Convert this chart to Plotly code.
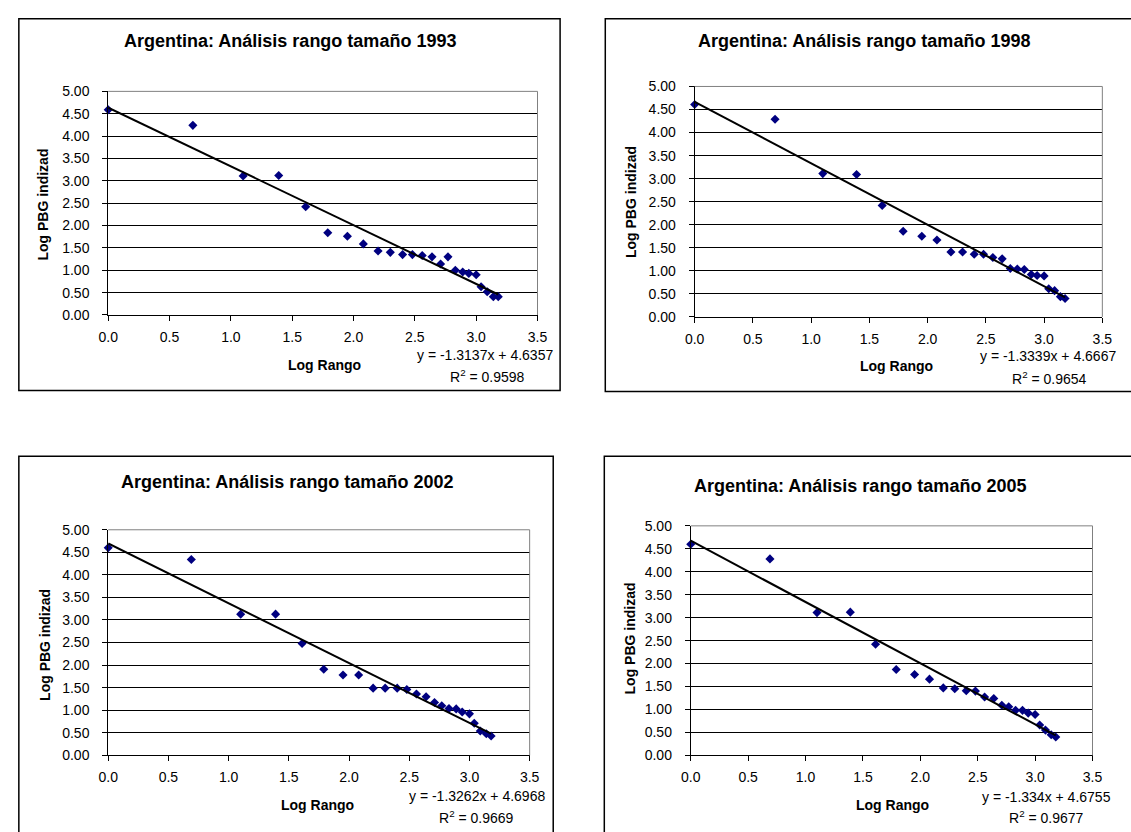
import plotly.graph_objects as go

W, H = 1131, 832

# ---------------- data ----------------
log_rango = [0.00, 0.69, 1.10, 1.39, 1.61, 1.79, 1.95, 2.08, 2.20, 2.30, 2.40, 2.48,
             2.56, 2.64, 2.71, 2.77, 2.83, 2.89, 2.94, 3.00, 3.04, 3.09, 3.14, 3.18]

pbg_1993 = [4.59, 4.24, 3.11, 3.12, 2.42, 1.84, 1.76, 1.59, 1.43, 1.40, 1.35, 1.35,
            1.33, 1.30, 1.14, 1.30, 1.00, 0.96, 0.93, 0.90, 0.63, 0.52, 0.41, 0.41]
pbg_1998 = [4.61, 4.29, 3.11, 3.09, 2.42, 1.86, 1.75, 1.67, 1.41, 1.41, 1.36, 1.36,
            1.29, 1.26, 1.05, 1.04, 1.03, 0.92, 0.90, 0.89, 0.61, 0.57, 0.44, 0.40]
pbg_2002 = [4.60, 4.34, 3.13, 3.13, 2.48, 1.91, 1.78, 1.78, 1.49, 1.49, 1.49, 1.46,
            1.36, 1.30, 1.17, 1.10, 1.04, 1.03, 0.96, 0.92, 0.71, 0.54, 0.48, 0.43]
pbg_2005 = [4.60, 4.28, 3.11, 3.12, 2.42, 1.87, 1.76, 1.66, 1.47, 1.45, 1.41, 1.40,
            1.27, 1.24, 1.09, 1.06, 0.98, 0.98, 0.92, 0.89, 0.66, 0.55, 0.45, 0.40]

years = ["1993", "1998", "2002", "2005"]
series = [pbg_1993, pbg_1998, pbg_2002, pbg_2005]
slopes = [-1.3137, -1.3339, -1.3262, -1.334]
intercepts = [4.6357, 4.6667, 4.6968, 4.6755]
r_squared = [0.9598, 0.9654, 0.9669, 0.9677]

x_ticks = [0.0, 0.5, 1.0, 1.5, 2.0, 2.5, 3.0, 3.5]
y_ticks = [0.0, 0.5, 1.0, 1.5, 2.0, 2.5, 3.0, 3.5, 4.0, 4.5, 5.0]

title_text = "Argentina: Análisis rango tamaño "
x_title = "Log Rango"
y_title = "Log PBG indizad"

# ---------------- layout (pixel positions) ----------------
panels = [
    dict(plot=(100, 537, 85, 313), frame=(9, 11, 560, 390), title=(285, 34),
         xlab=(320, 364), ylab=(34, 200), eq=(484, 354), r2=(486, 375)),
    dict(plot=(697, 1112, 80, 315), frame=(606, 11, 1250, 391), title=(869, 34),
         xlab=(902, 365), ylab=(632, 198), eq=(1057, 355), r2=(1058, 377)),
    dict(plot=(100, 529, 532, 762), frame=(9, 457, 553, 950), title=(282, 483),
         xlab=(313, 813), ylab=(35, 649), eq=(475, 803), r2=(475, 825)),
    dict(plot=(693, 1102, 528, 762), frame=(605, 457, 1250, 950), title=(865, 487),
         xlab=(898, 813), ylab=(631, 643), eq=(1055, 804), r2=(1055, 825)),
]

FONT = "Liberation Sans, Arial, sans-serif"


def px(x):
    return x / W


def py(y):
    return 1 - y / H


fig = go.Figure()
shapes = []
annotations = []
layout = {}


def note(text, pos, size, angle=0):
    return dict(text=text, xref="paper", yref="paper", x=px(pos[0]), y=py(pos[1]),
                xanchor="center", yanchor="middle", showarrow=False, textangle=angle,
                font=dict(family=FONT, size=size, color="black"))


for i, (yr, ys, m, b, r2, p) in enumerate(zip(years, series, slopes, intercepts, r_squared, panels)):
    n = "" if i == 0 else str(i + 1)
    xa, ya = "x" + n, "y" + n
    x0, x1, y0, y1 = p["plot"]

    fig.add_trace(go.Scatter(
        x=log_rango, y=ys, mode="markers", xaxis=xa, yaxis=ya,
        marker=dict(symbol="diamond", size=7, color="#000080"),
        cliponaxis=False, showlegend=False, hoverinfo="skip"))

    xe = [min(log_rango), max(log_rango)]
    fig.add_trace(go.Scatter(
        x=xe, y=[b + m * v for v in xe], mode="lines", xaxis=xa, yaxis=ya,
        line=dict(color="black", width=2), cliponaxis=False,
        showlegend=False, hoverinfo="skip"))

    layout["xaxis" + n] = dict(
        domain=[px(x0), px(x1)], anchor=ya, range=[0, 3.5], tickvals=x_ticks,
        tickformat=".1f", showline=True, linecolor="black", linewidth=1,
        ticks="outside", ticklen=5, tickcolor="black", showgrid=False,
        zeroline=False, ticklabelstandoff=4,
        tickfont=dict(family=FONT, size=14, color="black"))
    layout["yaxis" + n] = dict(
        domain=[py(y1), py(y0)], anchor=xa, range=[0, 5], tickvals=y_ticks,
        tickformat=".2f", showline=True, linecolor="black", linewidth=1,
        ticks="outside", ticklen=5, tickcolor="black", showgrid=True,
        gridcolor="black", gridwidth=1, zeroline=False, ticklabelstandoff=10,
        tickfont=dict(family=FONT, size=14, color="black"))

    # gray plot-area border (top and right)
    shapes.append(dict(type="line", xref=xa + " domain", yref=ya + " domain",
                       x0=0, x1=1, y0=1, y1=1, line=dict(color="#808080", width=1)))
    shapes.append(dict(type="line", xref=xa + " domain", yref=ya + " domain",
                       x0=1, x1=1, y0=0, y1=1, line=dict(color="#808080", width=1)))
    # chart frame
    fx0, fy0, fx1, fy1 = p["frame"]
    shapes.append(dict(type="rect", xref="paper", yref="paper",
                       x0=px(fx0), x1=px(fx1), y0=py(fy1), y1=py(fy0),
                       line=dict(color="black", width=1.5), fillcolor="rgba(0,0,0,0)"))

    annotations.append(note("<b>" + title_text + yr + "</b>", p["title"], 18))
    annotations.append(note("<b>" + x_title + "</b>", p["xlab"], 14))
    annotations.append(note("<b>" + y_title + "</b>", p["ylab"], 14, -90))
    annotations.append(note(f"y = {m:g}x + {b:g}", p["eq"], 14))
    annotations.append(note(f"R<sup>2</sup> = {r2:g}", p["r2"], 14))

fig.update_layout(
    width=W, height=H, autosize=False,
    margin=dict(l=0, r=0, t=0, b=0, pad=0),
    paper_bgcolor="white", plot_bgcolor="white",
    shapes=shapes, annotations=annotations,
    font=dict(family=FONT, size=14, color="black"),
    **layout)

fig.write_html("out.html", config={"displayModeBar": False},
               post_script="document.body.style.margin='0';document.body.style.overflow='hidden';")
